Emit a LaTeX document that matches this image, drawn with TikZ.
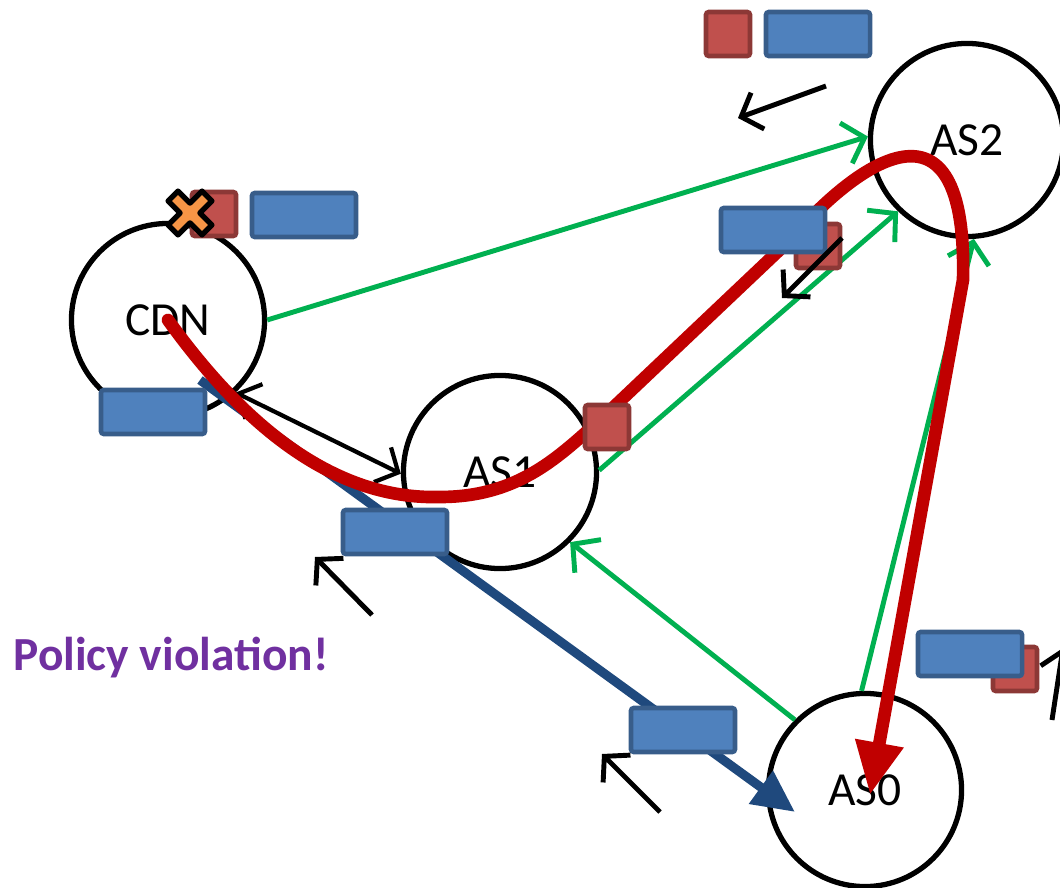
\documentclass[tikz,border=0pt]{standalone}
\usepackage{fontspec}
\setmainfont{Carlito}
\usetikzlibrary{arrows.meta}
\definecolor{routegreen}{HTML}{00B050}
\definecolor{hijackred}{HTML}{C00000}
\definecolor{leakblue}{HTML}{1F497D}
\definecolor{pktblue}{HTML}{4F81BD}
\definecolor{pktblueedge}{HTML}{385D8A}
\definecolor{pktred}{HTML}{C0504D}
\definecolor{pktrededge}{HTML}{8C3836}
\definecolor{xorange}{HTML}{F79646}
\definecolor{warnpurple}{HTML}{7030A0}
\begin{document}
\begin{tikzpicture}
    [
        x=0.01cm, y=-0.01cm,
        autsys/.style={circle, draw, line width=1.5pt, minimum size=1.93cm, inner sep=0pt,
            font=\fontsize{13.5}{16}\selectfont},
        longpkt/.style={rectangle, draw=pktblueedge, fill=pktblue, line width=1.3pt,
            rounded corners=0.8pt, minimum width=1.04cm, minimum height=0.44cm, inner sep=0pt},
        shortpkt/.style={rectangle, draw=pktrededge, fill=pktred, line width=1.3pt,
            rounded corners=0.8pt, minimum size=0.44cm, inner sep=0pt},
        route/.style={draw=routegreen, line width=1.4pt, -{Straight Barb[length=5.5pt,width=12pt]}},
        hint/.style={draw=black, line width=1.4pt, -{Straight Barb[length=5pt,width=11pt]}},
    ]
    \clip (0,0) rectangle (1060,888);
    \node (cdn) at (168,320) [autsys] {CDN};
    \node (as1) at (500,472) [autsys] {AS1};
    \node (as2) at (967,140) [autsys] {AS2};
    \node (as0) at (865,790) [autsys] {AS0};
    \node (warn) at (171,658) [text=warnpurple, font=\fontsize{13.5}{16}\selectfont\bfseries] {Policy violation!};
    % announcements
    \draw [route] (cdn.0) -- (as2.178);
    \draw [route] (as1.1) -- (as2.226);
    \draw [route] (as0.92) -- (as2.-86);
    \draw [route] (as0.135) -- (as1.-45);
    \draw [line width=1.2pt, {Straight Barb[length=5pt,width=11pt]}-{Straight Barb[length=5pt,width=11pt]}]
        (cdn.-47) -- (as1.181);
    % leaked route
    \coordinate (leakstart) at (200,380);
    \coordinate (leakend) at (795,812);
    \draw [leakblue, line width=2.6pt, -{Triangle[length=12pt,width=11pt]}] (leakstart) -- (leakend);
    % traffic
    \draw [hijackred, line width=3.6pt, line cap=round, -{Triangle[length=15pt,width=13pt]}]
        (cdn.center) .. controls (240,420) and (330,500) .. (440,497)
        .. controls (520,497) and (560,455) .. (600,420) -- (790,240)
        .. controls (855,165) and (968,80) .. (963,280) -- (870,795);
    % prefixes
    \node (topred) at (728,34) [shortpkt] {};
    \node (topblue) at (818,34) [longpkt] {};
    \node (cdnred) at (214,214) [shortpkt] {};
    \node (cdnblue) at (304,215) [longpkt] {};
    \node (cdnlow) at (153,412) [longpkt] {};
    \node (as2red) at (818,246) [shortpkt] {};
    \node (as2blue) at (773,230) [longpkt] {};
    \node (as1red) at (607,427) [shortpkt] {};
    \node (midblue) at (395,532) [longpkt] {};
    \node (lowblue) at (683,730) [longpkt] {};
    \node (rightred) at (1015,669) [shortpkt] {};
    \node (rightblue) at (970,654) [longpkt] {};
    % withdrawn
    \draw [fill=xorange, line width=1.5pt, line join=round, shift={(190,213)}, rotate=45]
        (-7,-24) -- (7,-24) -- (7,-7) -- (24,-7) -- (24,7) -- (7,7) -- (7,24)
        -- (-7,24) -- (-7,7) -- (-24,7) -- (-24,-7) -- (-7,-7) -- cycle;
    % propagation hints
    \coordinate (h1a) at (826,86);   \coordinate (h1b) at (738,118);
    \coordinate (h2a) at (842,238);  \coordinate (h2b) at (782,298);
    \coordinate (h3a) at (372,615);  \coordinate (h3b) at (315,557);
    \coordinate (h4a) at (660,812);  \coordinate (h4b) at (602,754);
    \coordinate (h5a) at (1052,720); \coordinate (h5b) at (1063,648);
    \draw [hint] (h1a) -- (h1b);
    \draw [hint] (h2a) -- (h2b);
    \draw [hint] (h3a) -- (h3b);
    \draw [hint] (h4a) -- (h4b);
    \draw [hint] (h5a) -- (h5b);
\end{tikzpicture}
\end{document}
